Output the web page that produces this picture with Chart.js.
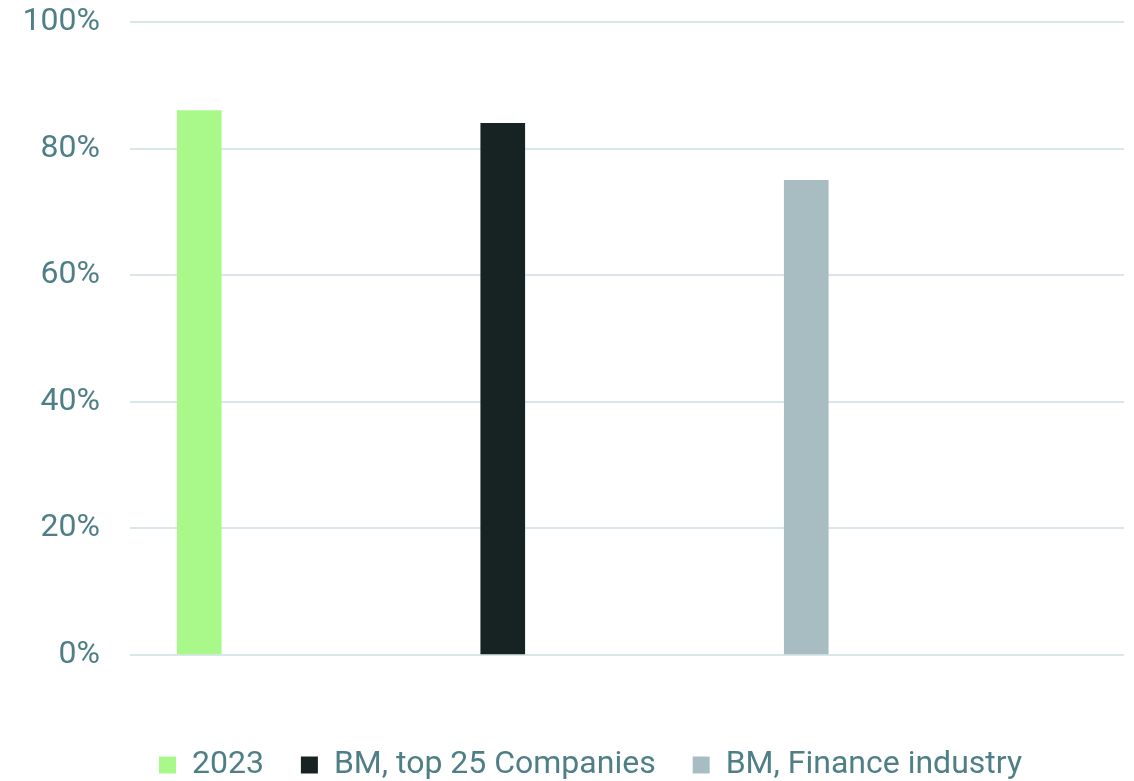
<!DOCTYPE html>
<html>
<head>
<meta charset="utf-8">
<script src="https://cdn.jsdelivr.net/npm/chart.js@4/dist/chart.umd.min.js"></script>
<style>
  html, body { margin: 0; padding: 0; background: #ffffff; }
  #wrap { width: 1134px; height: 781px; position: relative; }
</style>
</head>
<body>
<div id="wrap"><canvas id="c"></canvas></div>
<script>
// Data
const seriesNames = ['2023', 'BM, top 25 Companies', 'BM, Finance industry'];
const seriesValues = [86, 84, 75];
const seriesColors = ['#a8f88a', '#172223', '#a8bdc2'];
const yTicks = [0, 20, 40, 60, 80, 100];

const textColor = '#4f7f86';
const fontFamily = 'Roboto, "Liberation Sans", Arial, sans-serif';

const datasets = seriesNames.map((name, i) => ({
  label: name,
  data: [{ x: i, y: seriesValues[i] }],
  backgroundColor: seriesColors[i],
  borderWidth: 0,
  grouped: false,
  maxBarThickness: 44,
  barPercentage: 1,
  categoryPercentage: 1
}));

new Chart(document.getElementById('c'), {
  type: 'bar',
  data: { datasets },
  options: {
    responsive: true,
    maintainAspectRatio: false,
    animation: false,
    layout: { padding: { left: 57, right: 10, top: 22, bottom: 0 } },
    plugins: {
      tooltip: { enabled: false },
      legend: {
        position: 'bottom',
        maxHeight: 69,
        labels: {
          boxWidth: 17,
          boxHeight: 17,
          padding: 37,
          color: textColor,
          font: { family: fontFamily, size: 32 }
        }
      }
    },
    scales: {
      x: {
        type: 'linear',
        offset: false,
        bounds: 'data',
        min: -0.2282,
        max: 3.0469,
        display: true,
        grid: { display: false },
        border: { display: false },
        ticks: { display: false, stepSize: 1 },
        afterFit: (s) => { s.height = 57; s.paddingLeft = 0; s.paddingRight = 0; }
      },
      y: {
        min: yTicks[0],
        max: yTicks[yTicks.length - 1],
        afterBuildTicks: (s) => { s.ticks = yTicks.map(v => ({ value: v })); },
        grid: { color: '#dae7e8', lineWidth: 2, drawTicks: false },
        border: { display: false },
        ticks: {
          padding: 30,
          color: textColor,
          font: { family: fontFamily, size: 32 },
          callback: (v) => v + '%'
        },
        afterFit: (s) => {
          s.width = 73;
          s.paddingTop = 0;
          s.paddingBottom = 0;
          s._computeLabelArea = () => null;
        }
      }
    }
  }
});
</script>
</body>
</html>
